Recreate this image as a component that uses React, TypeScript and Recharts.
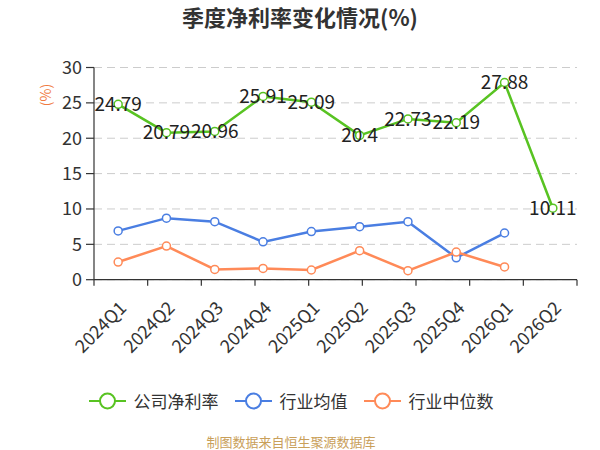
import React from 'react';
import { LineChart, Line, XAxis, YAxis, CartesianGrid } from 'recharts';

const categories = ['2024Q1', '2024Q2', '2024Q3', '2024Q4', '2025Q1', '2025Q2', '2025Q3', '2025Q4', '2026Q1', '2026Q2'];
const companyNetMargin = [24.79, 20.79, 20.96, 25.91, 25.09, 20.4, 22.73, 22.19, 27.88, 10.11];
const industryMean: (number | null)[] = [6.9, 8.7, 8.2, 5.35, 6.8, 7.5, 8.2, 3.1, 6.6, null];
const industryMedian: (number | null)[] = [2.5, 4.75, 1.45, 1.6, 1.37, 4.1, 1.27, 3.9, 1.8, null];
const yTicks = [0, 5, 10, 15, 20, 25, 30];
const boundaryTicks = [0, 1, 2, 3, 4, 5, 6, 7, 8, 9, 10];

const seriesNames = ['公司净利率', '行业均值', '行业中位数'];
const GREEN = '#58c322';
const BLUE = '#4a7ee2';
const ORANGE = '#ff8a58';
const colors = [GREEN, BLUE, ORANGE];

const FONT = '"Noto Sans CJK SC", "Noto Sans", sans-serif';

const data = categories.map((c, i) => ({
  name: c,
  company: companyNetMargin[i],
  mean: industryMean[i],
  median: industryMedian[i],
}));

const XTick = (props: any) => {
  const { x, y, payload } = props;
  const ax = x + 5;
  const ay = y + 16;
  return (
    <text
      x={ax}
      y={ay}
      dy="0.35em"
      textAnchor="end"
      transform={`rotate(-45 ${ax} ${ay})`}
      fontSize={18}
      fill="#333"
      fontFamily={FONT}
    >
      {payload.value}
    </text>
  );
};

const renderValueLabel = (props: any) => {
  const { x, y, value } = props;
  if (value == null) return null;
  return (
    <text x={x} y={y} dy="0.35em" textAnchor="middle" fontSize={19} fill="#222" fontFamily={FONT}>
      {value}
    </text>
  );
};

const LegendIcon = ({ color }: { color: string }) => (
  <svg width={37} height={20} style={{ display: 'block' }}>
    <line x1={0} y1={10} x2={37} y2={10} stroke={color} strokeWidth={2} />
    <circle cx={18.5} cy={10} r={7.5} fill="#fff" stroke={color} strokeWidth={2} />
  </svg>
);

export default function App() {
  return (
    <div style={{ position: 'absolute', left: 0, top: 0, width: 600, height: 450, background: '#fff', fontFamily: FONT }}>
      <div
        style={{
          position: 'absolute',
          left: 0,
          top: 2,
          width: 600,
          textAlign: 'center',
          fontSize: 22,
          fontWeight: 'bold',
          color: '#333',
          lineHeight: '28px',
        }}
      >
        季度净利率变化情况(%)
      </div>
      <LineChart width={600} height={450} data={data} margin={{ top: 67.5, right: 23, bottom: 168.3, left: 0 }}>
        <CartesianGrid vertical={false} stroke="#cccccc" strokeDasharray="8 5" />
        <XAxis
          xAxisId="b"
          type="number"
          domain={[0, 10]}
          ticks={boundaryTicks}
          allowDataOverflow
          height={1}
          axisLine={{ stroke: '#333', strokeWidth: 1.2 }}
          tickLine={{ stroke: '#333', strokeWidth: 1.2 }}
          tickSize={6}
          tickFormatter={() => ''}
        />
        <XAxis
          xAxisId="c"
          dataKey="name"
          scale="band"
          height={1}
          axisLine={false}
          tickLine={false}
          interval={0}
          tick={<XTick />}
        />
        <YAxis
          width={94}
          domain={[0, 30]}
          ticks={yTicks}
          axisLine={{ stroke: '#333', strokeWidth: 1.2 }}
          tickLine={{ stroke: '#333', strokeWidth: 1.2 }}
          tickSize={8}
          tickMargin={4}
          tick={{ fontSize: 18, fill: '#333', fontFamily: FONT }}
          label={{
            value: '(%)',
            content: () => (
              <text
                x={46}
                y={95}
                dy="0.35em"
                textAnchor="middle"
                transform="rotate(-90 46 95)"
                fontSize={14}
                fill="#f07a40"
                fontFamily={FONT}
              >
                (%)
              </text>
            ),
          }}
        />
        <Line
          xAxisId="c"
          dataKey="company"
          name={seriesNames[0]}
          stroke={GREEN}
          strokeWidth={2.5}
          dot={{ r: 4, fill: '#fff', stroke: GREEN, strokeWidth: 1.5 }}
          isAnimationActive={false}
          label={renderValueLabel}
        />
        <Line
          xAxisId="c"
          dataKey="mean"
          name={seriesNames[1]}
          stroke={BLUE}
          strokeWidth={2.5}
          dot={{ r: 4, fill: '#fff', stroke: BLUE, strokeWidth: 1.5 }}
          isAnimationActive={false}
        />
        <Line
          xAxisId="c"
          dataKey="median"
          name={seriesNames[2]}
          stroke={ORANGE}
          strokeWidth={2.5}
          dot={{ r: 4, fill: '#fff', stroke: ORANGE, strokeWidth: 1.5 }}
          isAnimationActive={false}
        />
      </LineChart>
      <div
        style={{
          position: 'absolute',
          left: -9,
          top: 389,
          width: 600,
          display: 'flex',
          justifyContent: 'center',
          alignItems: 'center',
          gap: 16,
        }}
      >
        {seriesNames.map((n, i) => (
          <div key={n} style={{ display: 'flex', alignItems: 'center', gap: 8 }}>
            <LegendIcon color={colors[i]} />
            <span style={{ fontSize: 17, color: '#333', lineHeight: '24px' }}>{n}</span>
          </div>
        ))}
      </div>
      <div
        style={{
          position: 'absolute',
          left: -9,
          top: 433,
          width: 600,
          textAlign: 'center',
          fontSize: 13,
          color: '#c9a05a',
          lineHeight: '18px',
        }}
      >
        制图数据来自恒生聚源数据库
      </div>
    </div>
  );
}
